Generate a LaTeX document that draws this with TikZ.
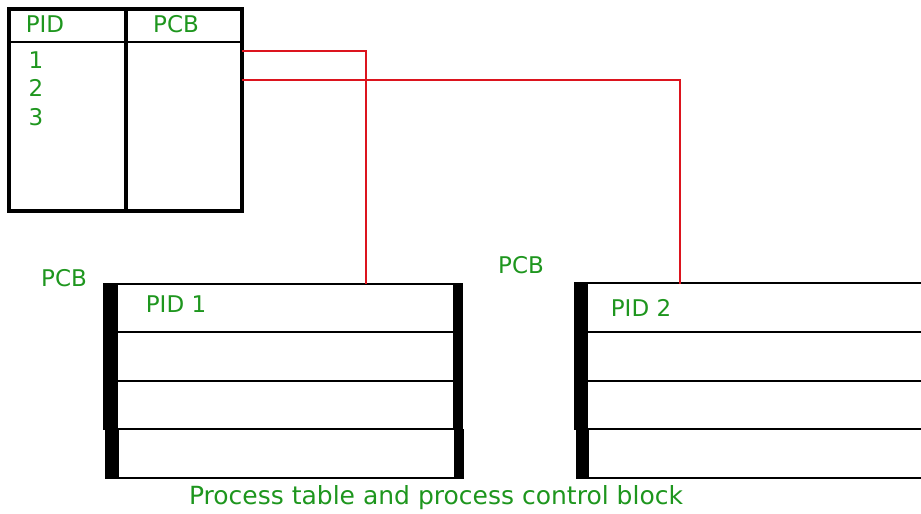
\documentclass[tikz,border=0pt]{standalone}
\usepackage{fontspec}
\setmainfont{DejaVu Sans}
\definecolor{txtgreen}{RGB}{30,150,30}
\definecolor{linkred}{RGB}{220,20,30}
\begin{document}
\begin{tikzpicture}[x=1pt,y=-1pt,
  lbl/.style={text=txtgreen,font=\fontsize{23}{27}\selectfont,inner sep=0pt},
  frame/.style={line width=3.5pt,draw=black},
  thin/.style={line width=2pt,draw=black},
  bar/.style={fill=black,draw=none},
  link/.style={draw=linkred,line width=2.4pt}]
\useasboundingbox (0,0) rectangle (921,514);
% process table
\draw[frame] (9,9) rectangle (242,211);
\draw[frame] (126,9) -- (126,211);
\draw[thin] (9,42) -- (242,42);
\node[lbl] (hpid) at (45,24) {PID};
\node[lbl] (hpcb) at (176,24) {PCB};
\node[lbl] (r1) at (36,60) {1};
\node[lbl] (r2) at (36,88) {2};
\node[lbl] (r3) at (36,117) {3};
\coordinate (t1) at (242,51);
\coordinate (t2) at (242,80);
% PCB block 1
\fill[bar] (103,284) rectangle (118,430);
\fill[bar] (105,429) rectangle (119,478);
\fill[bar] (453,284) rectangle (463,430);
\fill[bar] (454,429) rectangle (464,478);
\draw[thin] (103,284) -- (463,284);
\draw[thin] (118,332) -- (453,332);
\draw[thin] (118,381) -- (453,381);
\draw[thin] (118,429) -- (453,429);
\draw[thin] (105,478) -- (464,478);
\node[lbl] (pcb1) at (64,278) {PCB};
\node[lbl] (pid1) at (176,304) {PID 1};
\coordinate (b1) at (366,284);
% PCB block 2
\fill[bar] (574,283) rectangle (588,430);
\fill[bar] (576,429) rectangle (589,478);
\draw[thin] (574,283) -- (921,283);
\draw[thin] (588,332) -- (921,332);
\draw[thin] (588,381) -- (921,381);
\draw[thin] (588,429) -- (921,429);
\draw[thin] (576,478) -- (921,478);
\node[lbl] (pcb2) at (521,265) {PCB};
\node[lbl] (pid2) at (641,308) {PID 2};
\coordinate (b2) at (680,284);
% connectors
\draw[link] (t1) -| (b1);
\draw[link] (t2) -| (b2);
\node[lbl,font=\fontsize{25}{29}\selectfont] (cap) at (436,498) {Process table and process control block};
\end{tikzpicture}
\end{document}
